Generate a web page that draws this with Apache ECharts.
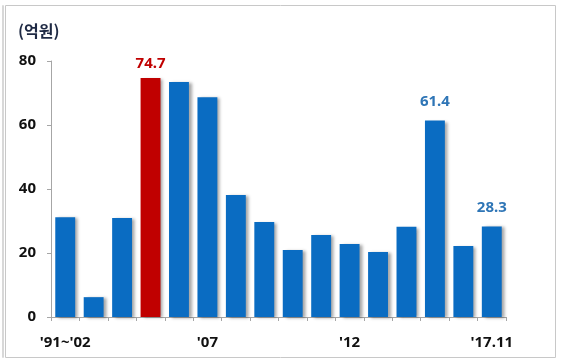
<!DOCTYPE html>
<html><head><meta charset="utf-8">
<script src="https://cdn.jsdelivr.net/npm/echarts@6/dist/echarts.min.js"></script>
<style>html,body{margin:0;padding:0;background:#fff}#c{width:561px;height:362px}</style>
</head><body><div id="c"></div>
<script>
const categories = ["'91~'02","'03","'04","'05","'06","'07","'08","'09","'10","'11","'12","'13","'14","'15","'16","'17.11"];
const values = [31.2, 6.2, 30.9, 74.7, 73.4, 68.7, 38.1, 29.7, 20.9, 25.6, 22.8, 20.3, 28.2, 61.4, 22.2, 28.3];
const shownLabels = [0, 5, 10, 15];
const highlightIndex = 3;
const valueLabelIdx = [3, 13, 15];
const yTicks = [0, 20, 40, 60, 80];
const unitText = '(억원)';

const font = "'Noto Sans', 'Noto Sans CJK KR', sans-serif";
const chart = echarts.init(document.getElementById('c'), null, {renderer: 'canvas'});
chart.setOption({
  animation: false,
  graphic: [
    {type: 'rect', shape: {x: 5.5, y: 5.5, width: 550, height: 352}, style: {fill: 'none', stroke: '#c8c8c8', lineWidth: 1}},
    {type: 'rect', shape: {x: 2.5, y: 5.5, width: 1, height: 352}, style: {fill: 'none', stroke: '#d8d8d8', lineWidth: 1}},
    {type: 'text', left: 18, top: 23, style: {text: unitText, font: "bold 16px 'Noto Sans CJK KR', sans-serif", fill: '#1f2a44'}}
  ],
  grid: {left: 51, right: 55, top: 61, bottom: 45},
  xAxis: {
    type: 'category', data: categories,
    axisLine: {lineStyle: {color: '#a6a6a6'}},
    axisTick: {show: true, alignWithLabel: false, interval: 0, length: 4, lineStyle: {color: '#a6a6a6'}},
    axisLabel: {interval: (i) => shownLabels.includes(i), color: '#111', fontWeight: 'bold', fontSize: 15, fontFamily: font, margin: 18}
  },
  yAxis: {
    type: 'value', min: 0, max: 80, interval: 20,
    axisLine: {show: true, lineStyle: {color: '#a6a6a6'}},
    axisTick: {show: true, length: 4, lineStyle: {color: '#a6a6a6'}},
    splitLine: {show: false},
    axisLabel: {color: '#111', fontWeight: 'bold', fontSize: 15, fontFamily: font, margin: 15,
      formatter: (v) => yTicks.includes(v) ? String(v) : ''}
  },
  series: [{
    type: 'bar', barCategoryGap: '30%',
    data: values.map((v, i) => ({
      value: v,
      itemStyle: {color: i === highlightIndex ? '#c00000' : '#0a6cc2'},
      label: {
        show: valueLabelIdx.includes(i), position: 'top', distance: i === highlightIndex ? 7 : 11,
        color: i === highlightIndex ? '#c00000' : '#2e75b6',
        fontWeight: 'bold', fontSize: 15, fontFamily: font,
        formatter: (p) => p.value.toFixed(1)
      }
    })),
    itemStyle: {shadowColor: 'rgba(0,0,0,0.35)', shadowOffsetX: 3, shadowOffsetY: 1, shadowBlur: 3}
  }]
});
</script></body></html>
